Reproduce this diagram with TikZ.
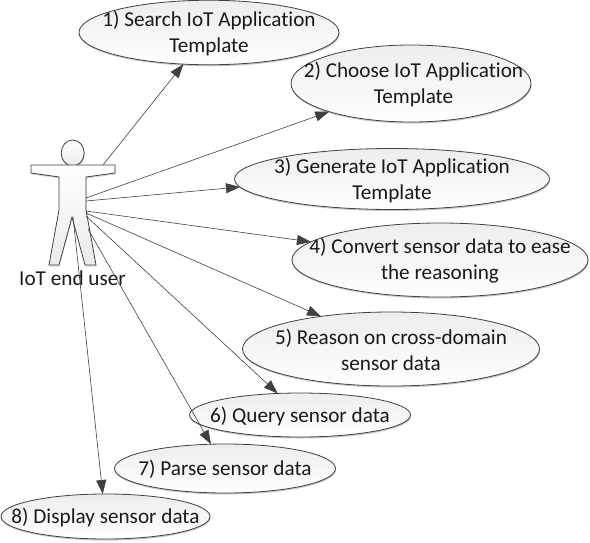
\documentclass[tikz,border=0pt]{standalone}
\usepackage{fontspec}
\setmainfont[Ligatures=NoCommon]{Carlito}
\usetikzlibrary{arrows.meta,shapes.geometric,shadows}
\definecolor{edgec}{HTML}{404040}
\newcommand{\dnstrut}{\rule{0pt}{17.5pt}}
\tikzset{
  uc/.style={ellipse,draw=edgec,line width=0.8pt,outer sep=0pt,inner xsep=-60pt,inner ysep=-20pt,
    top color=black!7,bottom color=white,
    align=center,font=\fontsize{21.2}{26}\selectfont,text=black!90,
    drop shadow={shadow xshift=0.5pt,shadow yshift=-1.5pt,fill=black,opacity=0.22}},
  link/.style={draw=edgec,line width=0.6pt,-{Triangle[length=14pt,width=10pt,fill=edgec]}},
  actorbody/.style={draw=edgec,line width=0.8pt,top color=white,bottom color=black!8,
    drop shadow={shadow xshift=0.5pt,shadow yshift=-1.5pt,fill=black,opacity=0.15}},
  lbl/.style={font=\fontsize{21.2}{24}\selectfont,text=black!90,inner sep=0pt}
}
\begin{document}
\begin{tikzpicture}[x=1pt,y=-1pt]
\useasboundingbox (0,0) rectangle (590,542);
\coordinate (s1) at (103,165);
\coordinate (s2) at (86,198);
\coordinate (s3) at (86,201);
\coordinate (s4) at (86,211);
\coordinate (s5) at (86,213);
\coordinate (s6) at (86,216);
\coordinate (s7) at (88,229);
\coordinate (s8) at (73,217);
% actor
\node[ellipse,actorbody,minimum width=23pt,minimum height=26pt,inner sep=0pt,outer sep=0pt] (head) at (72.7,153) {};
\draw[actorbody] (31,165) -- (115,165) -- (115,173) -- (86,177) -- (86,210) -- (96,265) -- (85,265) -- (72,217) -- (59,265) -- (49,265) -- (59,210) -- (59,177) -- (31,173) -- cycle;
\node[lbl] (actor) at (72.5,278) {IoT end user};
% use cases
\node[uc,minimum width=260pt,minimum height=64.5pt] (u1) at (209,32.5) {\dnstrut 1) Search IoT Application\\Template};
\node[uc,minimum width=240pt,minimum height=77pt] (u2) at (411,83.5) {\dnstrut\hspace*{5pt}2) Choose IoT Application\\\hspace*{5pt}Template};
\node[uc,minimum width=315pt,minimum height=61pt] (u3) at (392,179) {\dnstrut 3) Generate IoT Application\\Template};
\node[uc,minimum width=296pt,minimum height=74pt] (u4) at (440,260) {\dnstrut 4) Convert sensor data to ease\\the reasoning};
\node[uc,minimum width=297pt,minimum height=74pt] (u5) at (391,349) {\dnstrut 5) Reason on cross-domain\\sensor data};
\node[uc,minimum width=221pt,minimum height=44pt] (u6) at (300,415) {\dnstrut 6) Query sensor data};
\node[uc,minimum width=221pt,minimum height=49pt] (u7) at (225,468.5) {\dnstrut 7) Parse sensor data};
\node[uc,minimum width=209pt,minimum height=45pt] (u8) at (105.5,516.5) {\dnstrut 8) Display sensor data};
% connectors
\draw[link] (s1) -- (u1.231.3);
\draw[link] (s2) -- (u2.199.8);
\draw[link] (s3) -- (u3.183.5);
\draw[link] (s4) -- (u4.172.1);
\draw[link] (s5) -- (u5.155.7);
\draw[link] (s6) -- (u6.136.3);
\draw[link] (s7) -- (u7.120.3);
\draw[link] (s8) -- (u8.97.8);
\end{tikzpicture}
\end{document}
